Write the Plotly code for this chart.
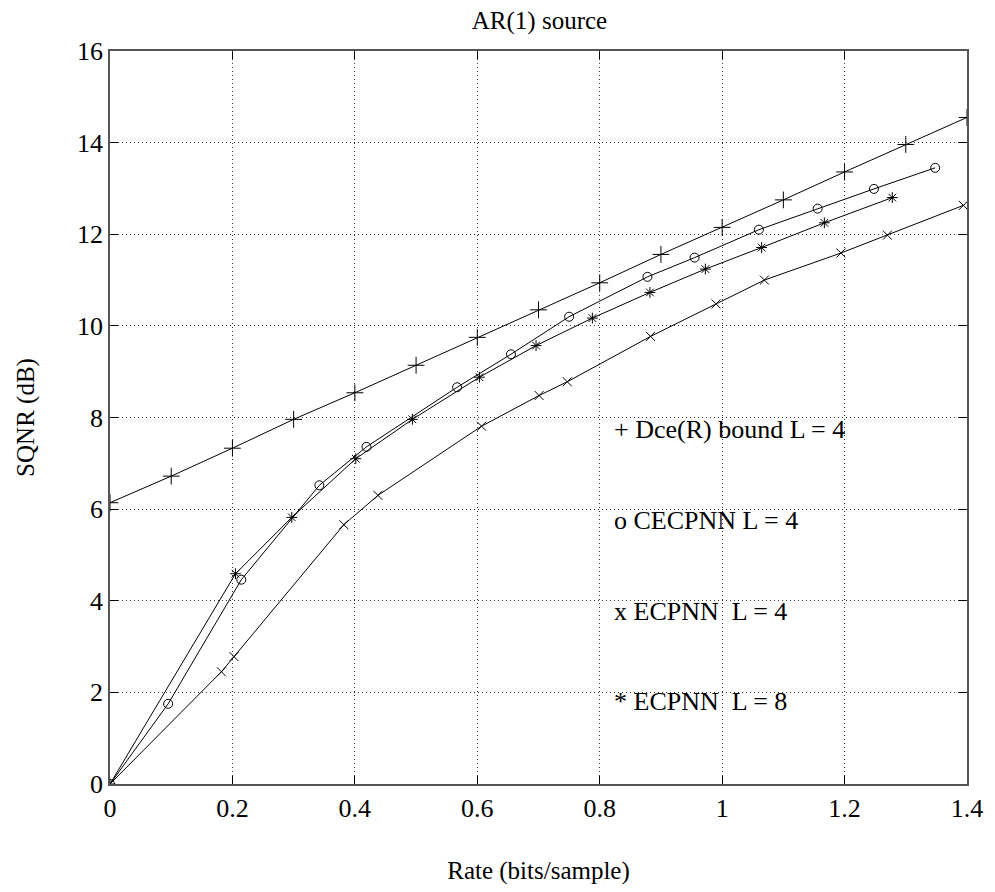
import plotly.graph_objects as go

# Dce(R) bound, L = 4
bound_rate = [0.0, 0.1, 0.2, 0.3, 0.4, 0.5, 0.6, 0.7, 0.8, 0.9, 1.0, 1.1, 1.2, 1.3, 1.4]
bound_sqnr = [6.14, 6.72, 7.33, 7.96, 8.54, 9.14, 9.75, 10.35, 10.94, 11.56, 12.15, 12.75, 13.36, 13.96, 14.55]

# CECPNN, L = 4
cecpnn4_rate = [0.0, 0.095, 0.2145, 0.342, 0.419, 0.567, 0.655, 0.750, 0.878, 0.955, 1.060, 1.156, 1.248, 1.348]
cecpnn4_sqnr = [0.0, 1.75, 4.46, 6.52, 7.36, 8.66, 9.38, 10.20, 11.07, 11.49, 12.10, 12.56, 12.99, 13.45]

# ECPNN, L = 4
ecpnn4_rate = [0.0, 0.182, 0.2026, 0.382, 0.4377, 0.607, 0.701, 0.747, 0.883, 0.990, 1.069, 1.194, 1.270, 1.394]
ecpnn4_sqnr = [0.0, 2.45, 2.78, 5.66, 6.30, 7.81, 8.48, 8.78, 9.77, 10.48, 11.00, 11.59, 11.98, 12.63]

# ECPNN, L = 8
ecpnn8_rate = [0.0, 0.205, 0.297, 0.4015, 0.494, 0.6035, 0.696, 0.788, 0.882, 0.9726, 1.0645, 1.167, 1.278]
ecpnn8_sqnr = [0.0, 4.59, 5.82, 7.10, 7.96, 8.88, 9.57, 10.17, 10.73, 11.24, 11.71, 12.25, 12.80]

x_ticks = [0, 0.2, 0.4, 0.6, 0.8, 1.0, 1.2, 1.4]
x_tick_text = ["0", "0.2", "0.4", "0.6", "0.8", "1", "1.2", "1.4"]
y_ticks = [0, 2, 4, 6, 8, 10, 12, 14, 16]

legend_labels = [
    "+ Dce(R) bound L = 4",
    "o CECPNN L = 4",
    "x ECPNN\u00a0 L = 4",
    "* ECPNN\u00a0 L = 8",
]
legend_y = [7.74, 5.76, 3.77, 1.80]
legend_x = 0.82

FONT = "Liberation Serif"
FSIZE = 26

series = [
    (bound_rate, bound_sqnr, "cross-thin-open", 12),
    (cecpnn4_rate, cecpnn4_sqnr, "circle-open", 9),
    (ecpnn4_rate, ecpnn4_sqnr, "x-thin-open", 9),
    (ecpnn8_rate, ecpnn8_sqnr, "asterisk-open", 9),
]

fig = go.Figure()
for xs, ys, sym, size in series:
    fig.add_trace(go.Scatter(
        x=xs, y=ys, mode="lines+markers",
        line=dict(color="black", width=1),
        marker=dict(symbol=sym, size=size, color="black",
                    line=dict(color="black", width=1)),
        showlegend=False,
    ))

for text, ly in zip(legend_labels, legend_y):
    fig.add_annotation(
        x=legend_x, y=ly, xref="x", yref="y", text=text,
        showarrow=False, xanchor="left", yanchor="middle",
        font=dict(family=FONT, size=FSIZE, color="black"),
    )

axis_common = dict(
    showline=True, linecolor="#555555", linewidth=1.5, mirror="allticks",
    ticks="inside", ticklen=8, tickcolor="black", tickwidth=1,
    showgrid=True, gridcolor="#333333", gridwidth=1, griddash="1px,3px",
    zeroline=False,
    tickfont=dict(family=FONT, size=FSIZE, color="black"),
)

fig.update_xaxes(
    range=[0, 1.4], tickvals=x_ticks, ticktext=x_tick_text,
    title=dict(text="Rate (bits/sample)", font=dict(family=FONT, size=FSIZE - 1, color="black"), standoff=40),
    **axis_common,
)
fig.update_yaxes(
    range=[0, 16], tickvals=y_ticks,
    title=dict(text="SQNR (dB)", font=dict(family=FONT, size=FSIZE - 1, color="black"), standoff=35),
    **axis_common,
)

fig.update_layout(
    width=995, height=892, autosize=False,
    margin=dict(l=110, r=21, t=51, b=106),
    paper_bgcolor="white", plot_bgcolor="white",
    title=dict(text="AR(1) source", x=0.5422, xanchor="center", y=0.977, yanchor="middle",
               font=dict(family=FONT, size=FSIZE - 1, color="black")),
)

fig.write_html("out.html")
